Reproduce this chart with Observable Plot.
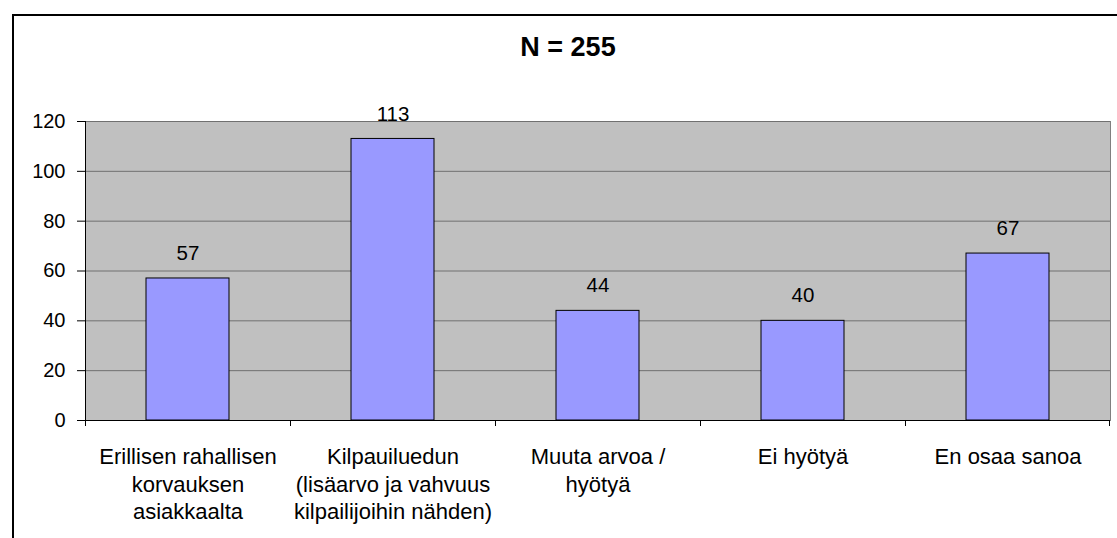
<!DOCTYPE html>
<html>
<head>
<meta charset="utf-8">
<script src="https://cdn.jsdelivr.net/npm/d3@7"></script>
<script src="https://cdn.jsdelivr.net/npm/@observablehq/plot@0.6"></script>
<style>
  html, body { margin: 0; padding: 0; background: #fff; overflow: hidden; }
  #wrap { position: relative; width: 1117px; height: 538px; font-family: "Liberation Sans", Arial, sans-serif; }
  #border { position: absolute; left: 12px; top: 14px; width: 1200px; height: 700px; border: 2px solid #000; box-sizing: border-box; }
  #title { position: absolute; left: 418px; width: 300px; top: 32px; text-align: center; font-weight: bold; font-size: 27px; line-height: 30px; }
  #chart { position: absolute; left: 0; top: 0; }
</style>
</head>
<body>
<div id="wrap">
  <div id="border"></div>
  <div id="title">N = 255</div>
  <div id="chart"></div>
</div>
<script>
const categories = [
  "Erillisen rahallisen\nkorvauksen\nasiakkaalta",
  "Kilpauiluedun\n(lisäarvo ja vahvuus\nkilpailijoihin nähden)",
  "Muuta arvoa /\nhyötyä",
  "Ei hyötyä",
  "En osaa sanoa"
];
const values = [57, 113, 44, 40, 67];
const yTicks = [0, 20, 40, 60, 80, 100, 120];

const data = categories.map((c, i) => ({cat: c, value: values[i]}));

const W = 1117, H = 538, mL = 85, mR = 7, mT = 121, mB = 118;
const step = (W - mL - mR) / categories.length;
const tickLenData = 6 * 120 / (H - mT - mB);

const plot = Plot.plot({
  width: W,
  height: H,
  marginLeft: mL,
  marginRight: mR,
  marginTop: mT,
  marginBottom: mB,
  style: {fontFamily: "'Liberation Sans', Arial, sans-serif", background: "transparent", fontSize: "20px"},
  x: {type: "band", domain: categories, paddingInner: 0.595, paddingOuter: 0.2975},
  y: {domain: [0, 120]},
  marks: [
    Plot.frame({fill: "#C0C0C0", stroke: "#808080"}),
    Plot.ruleY(yTicks.filter(d => d > 0), {stroke: "#707070"}),
    Plot.barY(data, {x: "cat", y: "value", fill: "#9999FF", stroke: "#000", strokeWidth: 1}),
    Plot.text(data, {x: "cat", y: "value", text: d => String(d.value), dy: -25, fontSize: 20.5, fill: "#000"}),
    Plot.ruleY([0], {stroke: "#000"}),
    Plot.frame({anchor: "left", stroke: "#000"}),
    Plot.ruleX(categories, {x: d => d, dx: -step / 2, y1: 0, y2: -tickLenData, stroke: "#000"}),
    Plot.ruleX([categories[categories.length - 1]], {x: d => d, dx: step / 2 - 1, y1: 0, y2: -tickLenData, stroke: "#000"}),
    Plot.axisY({ticks: yTicks, tickSize: 8, tickPadding: 12, fontSize: 20, label: null, fill: "#000", stroke: "#000"}),
    Plot.axisX({tickSize: 0, tickPadding: 24, fontSize: 22, lineHeight: 1.25, label: null, fill: "#000"})
  ]
});
document.getElementById("chart").appendChild(plot);
</script>
</body>
</html>
